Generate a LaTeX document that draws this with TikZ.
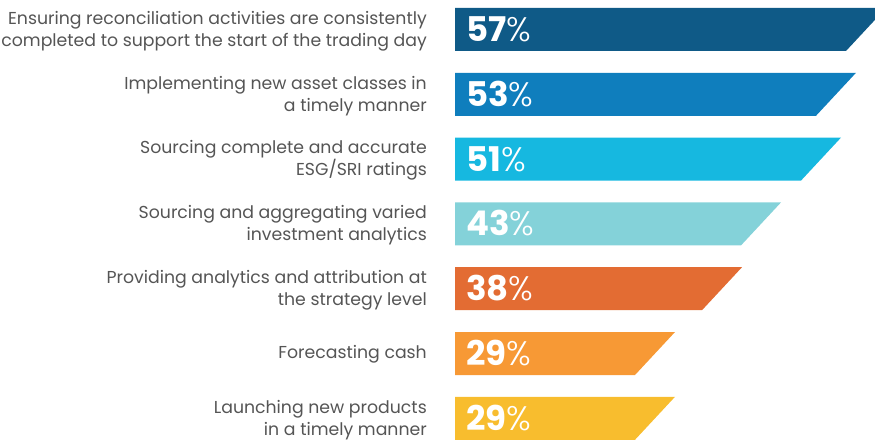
\documentclass[tikz,border=0pt]{standalone}
\usepackage{fontspec}
\setmainfont{Poppins}
\newfontfamily\pctlight{Poppins Light}
\definecolor{barA}{HTML}{0F5A87}
\definecolor{barB}{HTML}{0F7EBD}
\definecolor{barC}{HTML}{16B8E0}
\definecolor{barD}{HTML}{84D2D9}
\definecolor{barE}{HTML}{E36C33}
\definecolor{barF}{HTML}{F79935}
\definecolor{barG}{HTML}{F8BD2E}
\definecolor{labelgray}{HTML}{555555}
\begin{document}
\begin{tikzpicture}[x=1pt,y=-1pt,
        lbl/.style={anchor=east, align=right, text=labelgray, inner sep=0pt,
            font=\fontsize{17.3}{21.7}\selectfont},
        pct/.style={anchor=base west, text=white, inner sep=0pt,
            font=\fontsize{34}{34}\selectfont}]
            \useasboundingbox (0, 0) rectangle (875, 441);
            \clip (0, 0) rectangle (875, 441);
            % bars
            \fill[barA] (455, 8) -- (886, 8) -- (846, 51) -- (455, 51) -- cycle;
            \fill[barB] (455, 72.8) -- (856, 72.8) -- (816, 115.8) -- (455, 115.8) -- cycle;
            \fill[barC] (455, 137.6) -- (841, 137.6) -- (801, 180.6) -- (455, 180.6) -- cycle;
            \fill[barD] (455, 202.4) -- (781, 202.4) -- (741, 245.4) -- (455, 245.4) -- cycle;
            \fill[barE] (455, 267.2) -- (742, 267.2) -- (702, 310.2) -- (455, 310.2) -- cycle;
            \fill[barF] (455, 332) -- (675, 332) -- (635, 375) -- (455, 375) -- cycle;
            \fill[barG] (455, 396.8) -- (675, 396.8) -- (635, 439.8) -- (455, 439.8) -- cycle;
            % values
            \node[pct] (p1) at (466, 41.5) {\textbf{57}{\pctlight\%}};
            \node[pct] (p2) at (466, 106.3) {\textbf{53}{\pctlight\%}};
            \node[pct] (p3) at (466, 171.1) {\textbf{51}{\pctlight\%}};
            \node[pct] (p4) at (466, 235.9) {\textbf{43}{\pctlight\%}};
            \node[pct] (p5) at (466, 300.7) {\textbf{38}{\pctlight\%}};
            \node[pct] (p6) at (466, 365.5) {\textbf{29}{\pctlight\%}};
            \node[pct] (p7) at (466, 430.3) {\textbf{29}{\pctlight\%}};
            % labels
            \node[lbl] (l1) at (427, 31) {Ensuring reconciliation activities are consistently\\completed to support the start of the trading day};
            \node[lbl] (l2) at (427, 95.8) {Implementing new asset classes in\\a timely manner};
            \node[lbl] (l3) at (427, 160.6) {Sourcing complete and accurate\\ESG/SRI ratings};
            \node[lbl] (l4) at (427, 225.4) {Sourcing and aggregating varied\\investment analytics};
            \node[lbl] (l5) at (427, 290.2) {Providing analytics and attribution at\\the strategy level};
            \node[lbl] (l6) at (427, 354) {Forecasting cash};
            \node[lbl] (l7) at (427, 419.8) {Launching new products\\in a timely manner};
        \end{tikzpicture}
\end{document}
